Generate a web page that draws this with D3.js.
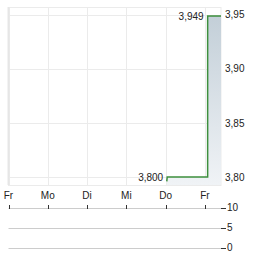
<!DOCTYPE html>
<html>
<head>
<meta charset="utf-8">
<script src="https://cdn.jsdelivr.net/npm/d3@7"></script>
<style>
  body { margin: 0; background: #fff; }
  text { font-family: "Liberation Sans", Arial, sans-serif; font-size: 10px; fill: #222; }
</style>
</head>
<body>
<div id="chart"></div>
<script>
// Day labels (trading day index 0..5)
const days = ["Fr", "Mo", "Di", "Mi", "Do", "Fr"];
// Price line: [day index, price]
const priceIdx = [4.03, 4.04, 5.07, 5.07, 5.41];
const priceVal = [3.796, 3.800, 3.800, 3.949, 3.949];
const priceTicks = [3.80, 3.85, 3.90, 3.95];
const volumeTicks = [0, 5, 10];
const labels = [{ i: 1, text: "3,800" }, { i: 3, text: "3,949" }];

const W = 264, H = 255;
const plot = { left: 8.5, right: 221, top: 7, bottom: 185 };

const svg = d3.select("#chart").append("svg")
    .attr("width", W)
    .attr("height", H);

const x = d3.scaleLinear().domain([0, 5.41]).range([plot.left, plot.right]);
const y = d3.scaleLinear().domain([3.7926, 3.9574]).range([plot.bottom, plot.top]);
const yVol = d3.scaleLinear().domain([0, 10]).range([247.5, 207.5]);

const fmt = d => d3.format(".2f")(d).replace(".", ",");

// Gradient for the area under the line
const grad = svg.append("defs").append("linearGradient")
    .attr("id", "areaGrad")
    .attr("x1", 0).attr("y1", 0).attr("x2", 0).attr("y2", 1);
grad.append("stop").attr("offset", "0%").attr("stop-color", "#c3cfd8");
grad.append("stop").attr("offset", "100%").attr("stop-color", "#f0f3f6");

// Grid
const grid = svg.append("g").attr("stroke", "#ebebeb").attr("stroke-width", 1);
grid.selectAll(".v").data(days).join("line")
    .attr("x1", (d, i) => Math.round(x(i)) + 0.5).attr("x2", (d, i) => Math.round(x(i)) + 0.5)
    .attr("y1", plot.top).attr("y2", plot.bottom);
grid.selectAll(".h").data(priceTicks).join("line")
    .attr("x1", plot.left).attr("x2", plot.right)
    .attr("y1", d => Math.round(y(d)) + 0.5).attr("y2", d => Math.round(y(d)) + 0.5);
grid.append("rect")
    .attr("x", plot.left).attr("y", plot.top + 0.5)
    .attr("width", plot.right - plot.left).attr("height", plot.bottom - plot.top)
    .attr("fill", "none");
svg.append("line")
    .attr("x1", 8.5).attr("x2", 8.5).attr("y1", plot.top).attr("y2", plot.bottom)
    .attr("stroke", "#e6e6e6").attr("stroke-width", 2);

// Area + line
const pts = priceIdx.map((d, i) => [d, priceVal[i]]);
const area = d3.area()
    .x(d => x(d[0]))
    .y0(plot.bottom)
    .y1(d => y(d[1]));
svg.append("path").datum(pts)
    .attr("d", area)
    .attr("fill", "url(#areaGrad)");

const line = d3.line()
    .x(d => x(d[0]))
    .y(d => y(d[1]));
svg.append("path").datum(pts)
    .attr("d", line)
    .attr("fill", "none")
    .attr("stroke", "#3d8f3d")
    .attr("stroke-width", 1.5);

// Value labels
svg.selectAll(".vl").data(labels).join("text")
    .attr("x", d => x(priceIdx[d.i]) - 4)
    .attr("y", d => y(priceVal[d.i]) + 3.5)
    .attr("text-anchor", "end")
    .text(d => d.text);

// Price axis (right)
svg.selectAll(".py").data(priceTicks).join("text")
    .attr("x", 225)
    .attr("y", d => y(d) + 3.5)
    .text(fmt);

// Day labels
svg.selectAll(".dx").data(days).join("text")
    .attr("x", (d, i) => x(i))
    .attr("y", 199)
    .attr("text-anchor", "middle")
    .text(d => d);

// Volume panel
const vol = svg.append("g");
vol.selectAll("line.g").data(volumeTicks).join("line")
    .attr("x1", plot.left).attr("x2", 221)
    .attr("y1", d => Math.round(yVol(d)) + 0.5).attr("y2", d => Math.round(yVol(d)) + 0.5)
    .attr("stroke", "#cccccc");
vol.selectAll("line.t").data(volumeTicks).join("line")
    .attr("x1", 221).attr("x2", 226)
    .attr("y1", d => Math.round(yVol(d)) + 0.5).attr("y2", d => Math.round(yVol(d)) + 0.5)
    .attr("stroke", "#333");
vol.selectAll("line.d").data(days).join("line")
    .attr("x1", (d, i) => Math.round(x(i)) + 0.5).attr("x2", (d, i) => Math.round(x(i)) + 0.5)
    .attr("y1", 205).attr("y2", 209)
    .attr("stroke", "#333");
vol.selectAll("text").data(volumeTicks).join("text")
    .attr("x", 227)
    .attr("y", d => yVol(d) + 3.5)
    .text(d => d);
</script>
</body>
</html>
